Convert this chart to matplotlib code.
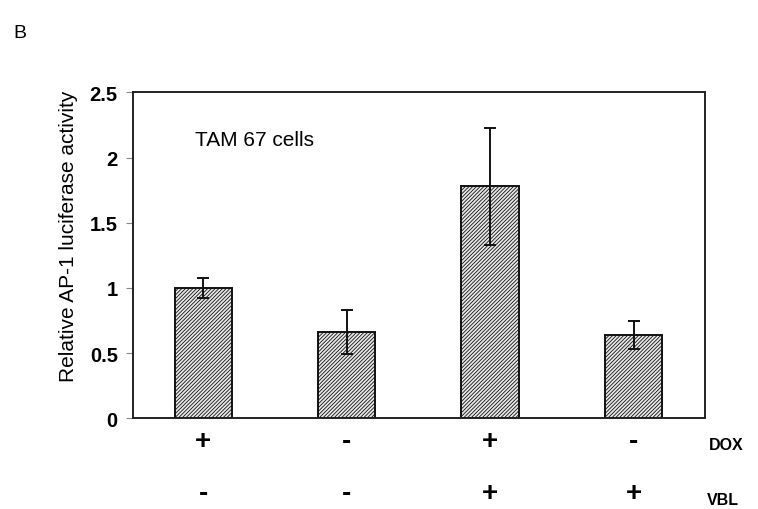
import matplotlib.pyplot as plt
import matplotlib as mpl

# Data
groups = [0, 1, 2, 3]
activity = [1.0, 0.66, 1.78, 0.64]
errors = [0.08, 0.17, 0.45, 0.11]
dox = ["+", "-", "+", "-"]
vbl = ["-", "-", "+", "+"]

plt.rcParams["font.family"] = ["Liberation Sans", "DejaVu Sans"]
mpl.rcParams["hatch.linewidth"] = 0.6
mpl.rcParams["hatch.color"] = "#303030"

fig = plt.figure(figsize=(7.58, 5.10), dpi=100)
ax = fig.add_axes([0.1755, 0.1778, 0.755, 0.639])

ax.bar(groups, activity, width=0.4, color="#e8e8e8", edgecolor="#111111",
       linewidth=1.4, hatch="/////////")
ax.errorbar(groups, activity, yerr=errors, fmt="none", ecolor="#111111",
            elinewidth=1.4, capsize=4, capthick=1.4)

ax.set_xlim(-0.49, 3.5)
ax.set_ylim(0, 2.5)
ax.set_yticks([0, 0.5, 1, 1.5, 2, 2.5])
ax.set_yticklabels(["0", "0.5", "1", "1.5", "2", "2.5"], fontweight="bold", fontsize=14.5)
ax.set_xticks([])
ax.tick_params(axis="y", length=5, width=0.8, color="#888888", pad=6)
for s in ax.spines.values():
    s.set_linewidth(1.4)
    s.set_color("#222222")

ax.set_ylabel("Relative AP-1 luciferase activity", fontsize=15)
ax.yaxis.set_label_coords(-0.097, 0.562)

ax.text(0.109, 0.857, "TAM 67 cells", transform=ax.transAxes, fontsize=15,
        va="center", ha="left")

# treatment rows under the bars
trans = ax.get_xaxis_transform()
for x, d, v in zip(groups, dox, vbl):
    ax.text(x, -0.069, d, transform=trans, ha="center", va="center",
            fontsize=20, fontweight="bold")
    ax.text(x, -0.229, v, transform=trans, ha="center", va="center",
            fontsize=20, fontweight="bold")
fig.text(709 / 758, 1 - 446 / 510, "DOX", fontsize=11.5, fontweight="bold", va="center")
fig.text(707 / 758, 1 - 501 / 510, "VBL", fontsize=11.5, fontweight="bold", va="center")

fig.text(13 / 758, 1 - 34 / 510, "B", fontsize=14, va="center")

fig.savefig("out.png", dpi=100)
